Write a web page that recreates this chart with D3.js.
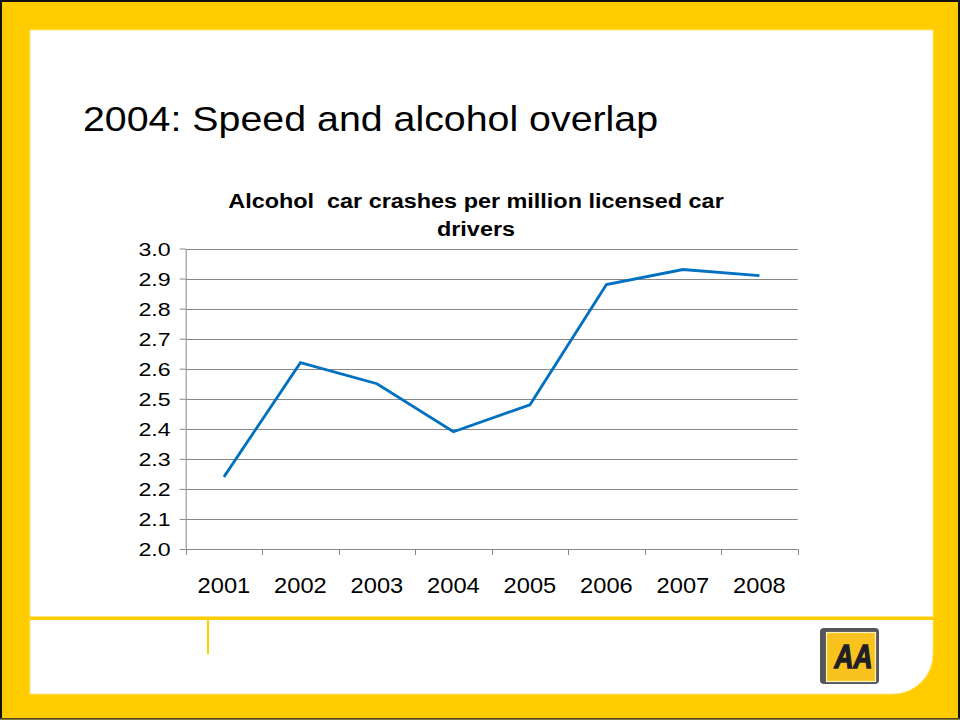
<!DOCTYPE html>
<html>
<head>
<meta charset="utf-8">
<script src="https://cdn.jsdelivr.net/npm/d3@7"></script>
<style>
  html, body { margin: 0; padding: 0; background: #fff; }
  svg { display: block; }
  text { font-family: "Liberation Sans", Arial, sans-serif; white-space: pre; }
</style>
</head>
<body>
<svg id="chart" width="960" height="720"></svg>
<script>
// ---- data ----
const years = ["2001", "2002", "2003", "2004", "2005", "2006", "2007", "2008"];
const crashes = [2.24, 2.62, 2.55, 2.39, 2.48, 2.88, 2.93, 2.91];
const yTicks = [2.0, 2.1, 2.2, 2.3, 2.4, 2.5, 2.6, 2.7, 2.8, 2.9, 3.0];
const slideTitle = "2004: Speed and alcohol overlap";
const chartTitleLines = ["Alcohol  car crashes per million licensed car", "drivers"];

const svg = d3.select("#chart");
const W = 960, H = 720;
const YELLOW = "#FFCC00";

// stretch helper (slide text is rendered horizontally wider)
function stretch(sel, f) {
  sel.each(function () {
    const len = this.getComputedTextLength();
    d3.select(this).attr("textLength", len * f).attr("lengthAdjust", "spacingAndGlyphs");
  });
}

// ---- frame ----
svg.append("rect").attr("x", 0).attr("y", 0).attr("width", W).attr("height", H).attr("fill", YELLOW);
svg.append("rect").attr("x", 1).attr("y", 1).attr("width", W - 2).attr("height", H - 2)
  .attr("fill", "none").attr("stroke", "#111").attr("stroke-width", 2);
svg.append("rect").attr("x", 0).attr("y", H - 1.5).attr("width", W).attr("height", 1.5).attr("fill", "#8a7a3a");

const L = 30, T = 30, R = 933, B = 694, rad = 40;
svg.append("path")
  .attr("d", `M${L},${T} H${R} V${B - rad} A${rad},${rad} 0 0 1 ${R - rad},${B} H${L} Z`)
  .attr("fill", "#fff").attr("stroke", "#ffe680").attr("stroke-width", 1);

// footer lines
svg.append("rect").attr("x", L).attr("y", 616.5).attr("width", R - L).attr("height", 3.5).attr("fill", YELLOW);
svg.append("rect").attr("x", 207).attr("y", 620).attr("width", 2).attr("height", 34).attr("fill", YELLOW);

// logo
const logo = svg.append("g");
logo.append("rect").attr("x", 820).attr("y", 628).attr("width", 59).attr("height", 56).attr("rx", 4)
  .attr("fill", "#55555c");
logo.append("rect").attr("x", 826.5).attr("y", 632.5).attr("width", 49).attr("height", 49)
  .attr("fill", "#F9C21E").attr("stroke", "#fff3c0").attr("stroke-width", 1.2);
const aa = logo.append("text").attr("x", 853.5).attr("y", 668).attr("text-anchor", "middle")
  .attr("font-size", 34).attr("font-weight", "bold").attr("font-style", "italic")
  .attr("fill", "#1e1e28").attr("stroke", "#1e1e28").attr("stroke-width", 1.5).text("AA");
aa.attr("textLength", 38).attr("lengthAdjust", "spacingAndGlyphs");

// ---- slide title ----
const st = svg.append("text").attr("x", 83).attr("y", 131).attr("font-size", 34.5)
  .attr("fill", "#000").text(slideTitle);
stretch(st, 1.14);

// ---- chart title ----
const ct = svg.append("g");
chartTitleLines.forEach((t, i) => {
  const tx = ct.append("text").attr("x", 476).attr("y", 208 + i * 28).attr("text-anchor", "middle")
    .attr("font-size", 20).attr("font-weight", "bold").attr("fill", "#000").text(t);
  stretch(tx, 1.17);
});

// ---- scales ----
const x = d3.scaleBand().domain(years).range([185.7, 797.7]).padding(0);
const y = d3.scaleLinear().domain([2.0, 3.0]).range([549, 248.5]);

// gridlines
svg.append("g").selectAll("line").data(yTicks.slice(1)).join("line")
  .attr("x1", x.range()[0]).attr("x2", x.range()[1])
  .attr("y1", d => Math.round(y(d)) + 0.5).attr("y2", d => Math.round(y(d)) + 0.5)
  .attr("stroke", "#878787").attr("stroke-width", 1);

// y axis
const yAxis = svg.append("g").attr("transform", `translate(${x.range()[0]},0)`)
  .call(d3.axisLeft(y).tickValues(yTicks).tickFormat(d3.format(".1f")).tickSize(6).tickSizeOuter(0).tickPadding(9));
yAxis.select(".domain").attr("stroke", "#878787");
yAxis.selectAll(".tick line").attr("stroke", "#878787");
yAxis.selectAll(".tick text").attr("font-size", 19).attr("font-family", "'Liberation Sans', Arial, sans-serif")
  .attr("fill", "#000").attr("dy", "0.36em");
stretch(yAxis.selectAll(".tick text"), 1.22);

// x axis line and boundary ticks
const xg = svg.append("g");
xg.append("line").attr("x1", x.range()[0]).attr("x2", x.range()[1])
  .attr("y1", y(2.0) + 0.5).attr("y2", y(2.0) + 0.5).attr("stroke", "#878787");
const bounds = years.map(d => x(d)).concat([x.range()[1]]);
xg.selectAll("line.tk").data(bounds).join("line").attr("class", "tk")
  .attr("x1", d => Math.round(d) + 0.5).attr("x2", d => Math.round(d) + 0.5)
  .attr("y1", y(2.0)).attr("y2", y(2.0) + 6).attr("stroke", "#878787");
const xl = xg.selectAll("text").data(years).join("text")
  .attr("x", d => x(d) + x.bandwidth() / 2).attr("y", 593)
  .attr("text-anchor", "middle").attr("font-size", 21.5).attr("fill", "#000").text(d => d);
stretch(xl, 1.1);

// line
const line = d3.line().x((d, i) => x(years[i]) + x.bandwidth() / 2).y(d => y(d));
svg.append("path").datum(crashes).attr("d", line)
  .attr("fill", "none").attr("stroke", "#0070C0").attr("stroke-width", 2.8)
  .attr("stroke-linejoin", "miter");
</script>
</body>
</html>
